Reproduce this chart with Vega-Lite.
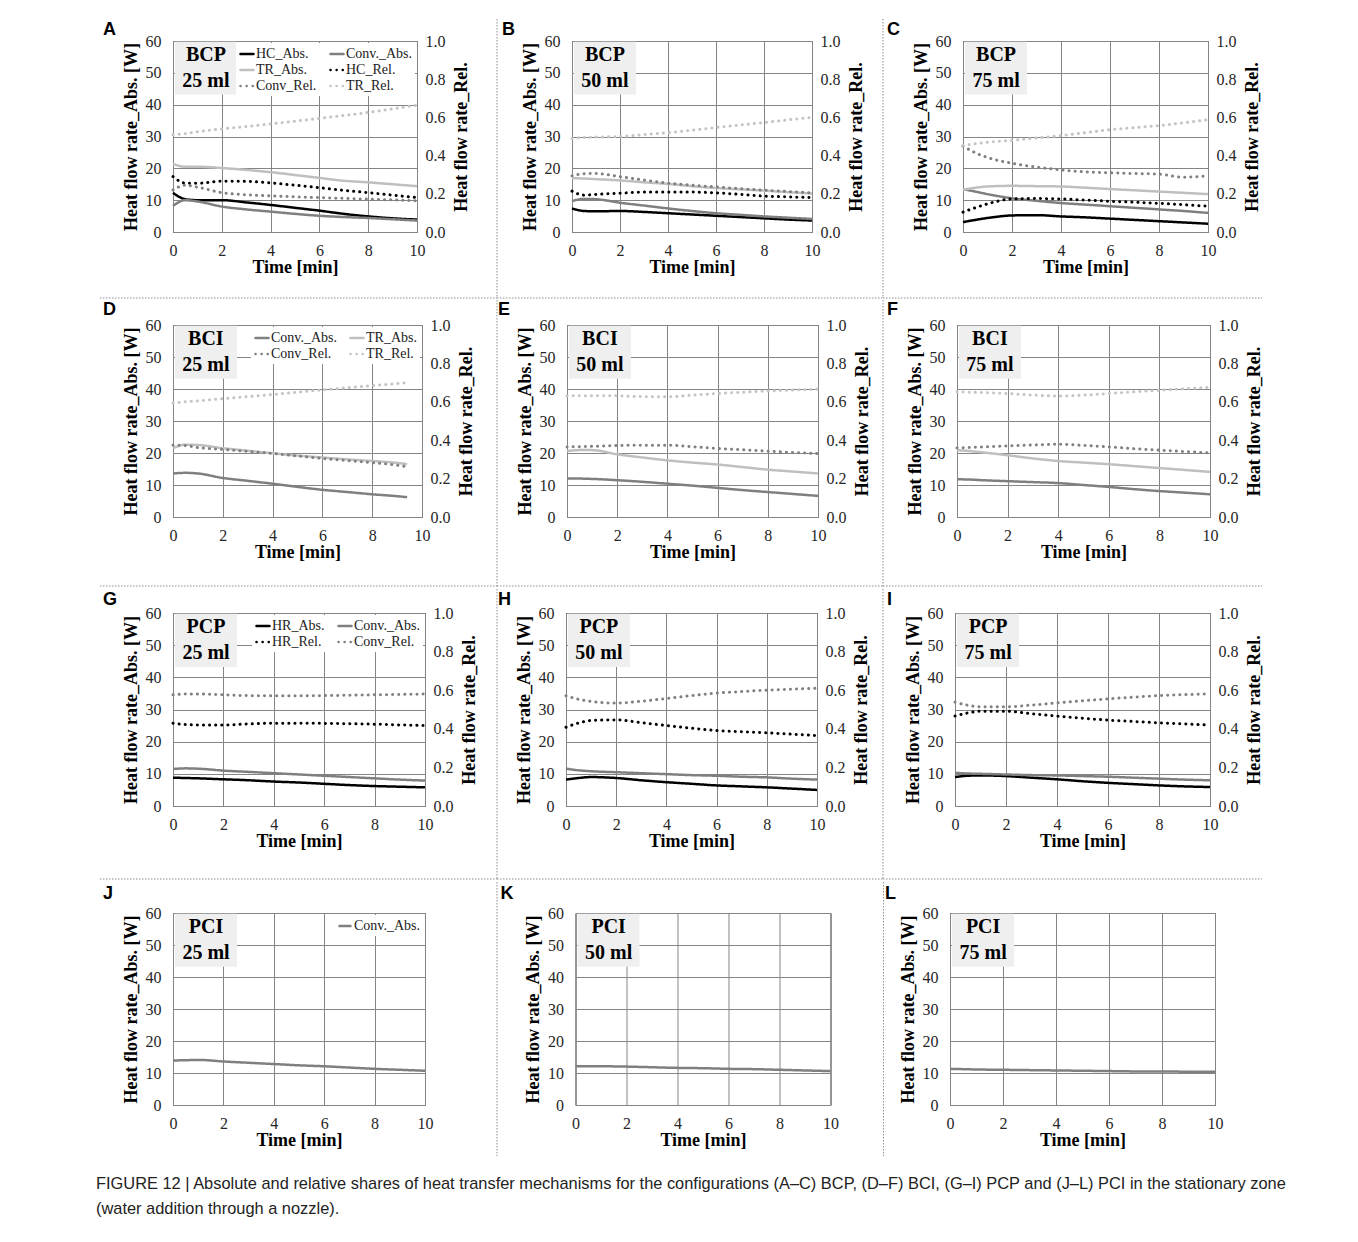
{
"$schema":"https://vega.github.io/schema/vega-lite/v6.json",
"padding":{"left":95,"top":18,"right":5,"bottom":5},
"background":"white",
"datasets":{
"lab":[{"p":"A","txt":"BCP\n25 ml"},{"p":"B","txt":"BCP\n50 ml"},{"p":"C","txt":"BCP\n75 ml"},{"p":"D","txt":"BCI\n25 ml"},{"p":"E","txt":"BCI\n50 ml"},{"p":"F","txt":"BCI\n75 ml"},{"p":"G","txt":"PCP\n25 ml"},{"p":"H","txt":"PCP\n50 ml"},{"p":"I","txt":"PCP\n75 ml"},{"p":"J","txt":"PCI\n25 ml"},{"p":"K","txt":"PCI\n50 ml"},{"p":"L","txt":"PCI\n75 ml"}],
"d":[
{"p":"A","s":"HC_Abs.","t":[0,0.5,1,2,3,4,5,6,7,8,9,10],"v":[12.3,10.3,10,10,9.3,8.5,7.6,6.7,5.7,4.9,4.3,3.9]},
{"p":"A","s":"Conv._Abs.","t":[0,0.5,1,2,3,4,5,6,7,8,9,10],"v":[8.2,10,9.6,8,7.1,6.4,5.7,5.1,4.7,4.4,4,3.6]},
{"p":"A","s":"TR_Abs.","t":[0,0.5,1,2,3,4,5,6,7,8,9,10],"v":[21.4,20.5,20.5,20.1,19.5,18.8,17.9,17,16.1,15.6,15,14.4]},
{"p":"A","s":"HC_Rel.","t":[0,0.5,1,2,3,4,5,6,7,8,9,10],"v":[0.29,0.256,0.255,0.266,0.265,0.257,0.245,0.232,0.218,0.206,0.193,0.18]},
{"p":"A","s":"Conv_Rel.","t":[0,0.5,1,2,3,4,5,6,7,8,9,10],"v":[0.22,0.245,0.235,0.206,0.195,0.189,0.184,0.18,0.176,0.172,0.168,0.163]},
{"p":"A","s":"TR_Rel.","t":[0,0.5,1,2,3,4,5,6,7,8,9,10],"v":[0.51,0.515,0.525,0.54,0.552,0.566,0.58,0.595,0.61,0.626,0.645,0.664]},
{"p":"B","s":"HC_Abs.","t":[0,0.5,1,2,3,4,5,6,7,8,9,10],"v":[7.4,6.6,6.5,6.6,6.3,5.9,5.5,5.1,4.7,4.3,3.9,3.6]},
{"p":"B","s":"Conv._Abs.","t":[0,0.5,1,2,3,4,5,6,7,8,9,10],"v":[9.7,10.4,10.3,9.2,8.3,7.4,6.6,5.9,5.4,4.9,4.5,4.1]},
{"p":"B","s":"TR_Abs.","t":[0,0.5,1,2,3,4,5,6,7,8,9,10],"v":[16.9,16.8,16.6,16.2,15.6,15.1,14.4,13.8,13.4,13,12.5,12.1]},
{"p":"B","s":"HC_Rel.","t":[0,0.5,1,2,3,4,5,6,7,8,9,10],"v":[0.214,0.193,0.197,0.203,0.209,0.209,0.209,0.205,0.197,0.188,0.184,0.18]},
{"p":"B","s":"Conv_Rel.","t":[0,0.5,1,2,3,4,5,6,7,8,9,10],"v":[0.294,0.305,0.306,0.29,0.272,0.256,0.245,0.236,0.227,0.219,0.212,0.205]},
{"p":"B","s":"TR_Rel.","t":[0,0.5,1,2,3,4,5,6,7,8,9,10],"v":[0.49,0.495,0.497,0.5,0.51,0.52,0.533,0.547,0.56,0.573,0.587,0.6]},
{"p":"C","s":"HC_Abs.","t":[0,0.5,1,2,3,4,5,6,7,8,9,10],"v":[3.1,3.8,4.4,5.2,5.3,4.9,4.6,4.2,3.8,3.4,3,2.6]},
{"p":"C","s":"Conv._Abs.","t":[0,0.5,1,2,3,4,5,6,7,8,9,10],"v":[13.5,12.7,11.9,10.6,9.8,9.1,8.6,8.1,7.6,7.1,6.6,6.0]},
{"p":"C","s":"TR_Abs.","t":[0,0.5,1,2,3,4,5,6,7,8,9,10],"v":[13.3,13.9,14.3,14.5,14.4,14.3,13.9,13.5,13.1,12.7,12.3,11.9]},
{"p":"C","s":"HC_Rel.","t":[0,0.5,1,2,3,4,5,6,7,8,9,10],"v":[0.104,0.127,0.147,0.173,0.175,0.173,0.167,0.161,0.156,0.15,0.143,0.135]},
{"p":"C","s":"Conv_Rel.","t":[0,0.5,1,2,3,4,5,6,7,8,9,10],"v":[0.45,0.415,0.39,0.36,0.34,0.325,0.315,0.31,0.306,0.303,0.287,0.294]},
{"p":"C","s":"TR_Rel.","t":[0,0.5,1,2,3,4,5,6,7,8,9,10],"v":[0.453,0.462,0.47,0.48,0.492,0.505,0.52,0.536,0.546,0.557,0.572,0.588]},
{"p":"D","s":"Conv._Abs.","t":[0,0.5,1,2,3,4,5,6,7,8,9,9.4],"v":[13.6,13.8,13.6,12.2,11.3,10.4,9.4,8.5,7.8,7.1,6.5,6.2]},
{"p":"D","s":"TR_Abs.","t":[0,0.5,1,2,3,4,5,6,7,8,9,9.4],"v":[21.5,22.6,22.5,21.5,20.7,19.9,19.2,18.6,18,17.5,16.9,16.5]},
{"p":"D","s":"Conv_Rel.","t":[0,0.5,1,2,3,4,5,6,7,8,9,9.4],"v":[0.374,0.372,0.362,0.352,0.342,0.331,0.318,0.305,0.294,0.283,0.27,0.262]},
{"p":"D","s":"TR_Rel.","t":[0,0.5,1,2,3,4,5,6,7,8,9,9.4],"v":[0.593,0.6,0.605,0.616,0.627,0.638,0.65,0.662,0.673,0.684,0.695,0.7]},
{"p":"E","s":"Conv._Abs.","t":[0,0.5,1,2,3,4,5,6,7,8,9,10],"v":[12,12,11.9,11.5,11,10.4,9.8,9.1,8.4,7.8,7.2,6.6]},
{"p":"E","s":"TR_Abs.","t":[0,0.5,1,2,3,4,5,6,7,8,9,10],"v":[20.6,20.9,20.9,19.6,18.6,17.7,17,16.4,15.6,14.8,14.2,13.6]},
{"p":"E","s":"Conv_Rel.","t":[0,0.5,1,2,3,4,5,6,7,8,9,10],"v":[0.365,0.366,0.368,0.372,0.374,0.374,0.366,0.357,0.35,0.343,0.336,0.33]},
{"p":"E","s":"TR_Rel.","t":[0,0.5,1,2,3,4,5,6,7,8,9,10],"v":[0.631,0.632,0.632,0.631,0.627,0.626,0.635,0.643,0.65,0.656,0.661,0.666]},
{"p":"F","s":"Conv._Abs.","t":[0,0.5,1,2,3,4,5,6,7,8,9,10],"v":[11.8,11.7,11.5,11.2,10.9,10.6,10,9.4,8.7,8.1,7.6,7.1]},
{"p":"F","s":"TR_Abs.","t":[0,0.5,1,2,3,4,5,6,7,8,9,10],"v":[20.9,20.6,20.2,19.3,18.3,17.5,17,16.5,15.9,15.3,14.7,14.1]},
{"p":"F","s":"Conv_Rel.","t":[0,0.5,1,2,3,4,5,6,7,8,9,10],"v":[0.36,0.362,0.365,0.37,0.375,0.379,0.373,0.365,0.356,0.348,0.341,0.334]},
{"p":"F","s":"TR_Rel.","t":[0,0.5,1,2,3,4,5,6,7,8,9,10],"v":[0.652,0.65,0.648,0.643,0.635,0.63,0.635,0.643,0.652,0.66,0.668,0.675]},
{"p":"G","s":"HR_Abs.","t":[0,0.5,1,2,3,4,5,6,7,8,9,10],"v":[8.8,8.7,8.6,8.3,8,7.6,7.3,6.9,6.5,6.2,6,5.8]},
{"p":"G","s":"Conv._Abs.","t":[0,0.5,1,2,3,4,5,6,7,8,9,10],"v":[11.5,11.7,11.6,11,10.6,10.2,9.8,9.4,9,8.6,8.2,7.9]},
{"p":"G","s":"HR_Rel.","t":[0,0.5,1,2,3,4,5,6,7,8,9,10],"v":[0.429,0.422,0.42,0.42,0.425,0.429,0.429,0.428,0.426,0.424,0.42,0.417]},
{"p":"G","s":"Conv_Rel.","t":[0,0.5,1,2,3,4,5,6,7,8,9,10],"v":[0.576,0.58,0.58,0.576,0.572,0.571,0.571,0.572,0.574,0.576,0.578,0.58]},
{"p":"H","s":"HR_Abs.","t":[0,0.5,1,2,3,4,5,6,7,8,9,10],"v":[8.2,8.7,9,8.7,8,7.4,6.9,6.4,6.1,5.8,5.4,5]},
{"p":"H","s":"Conv._Abs.","t":[0,0.5,1,2,3,4,5,6,7,8,9,10],"v":[11.6,11.1,10.8,10.5,10.2,9.9,9.6,9.4,9.1,8.9,8.5,8.2]},
{"p":"H","s":"HR_Rel.","t":[0,0.5,1,2,3,4,5,6,7,8,9,10],"v":[0.408,0.43,0.443,0.446,0.432,0.417,0.403,0.391,0.385,0.379,0.372,0.365]},
{"p":"H","s":"Conv_Rel.","t":[0,0.5,1,2,3,4,5,6,7,8,9,10],"v":[0.571,0.553,0.542,0.533,0.543,0.557,0.572,0.585,0.593,0.6,0.605,0.61]},
{"p":"I","s":"HR_Abs.","t":[0,0.5,1,2,3,4,5,6,7,8,9,10],"v":[9,9.4,9.5,9.3,8.8,8.3,7.7,7.2,6.8,6.4,6.1,5.9]},
{"p":"I","s":"Conv._Abs.","t":[0,0.5,1,2,3,4,5,6,7,8,9,10],"v":[10.3,10.1,10,9.8,9.6,9.5,9.3,9.1,8.8,8.5,8.2,8]},
{"p":"I","s":"HR_Rel.","t":[0,0.5,1,2,3,4,5,6,7,8,9,10],"v":[0.466,0.482,0.491,0.491,0.478,0.466,0.455,0.445,0.438,0.431,0.425,0.419]},
{"p":"I","s":"Conv_Rel.","t":[0,0.5,1,2,3,4,5,6,7,8,9,10],"v":[0.538,0.522,0.514,0.514,0.523,0.534,0.545,0.555,0.564,0.572,0.577,0.581]},
{"p":"J","s":"Conv._Abs.","t":[0,0.5,1,2,3,4,5,6,7,8,9,10],"v":[13.9,14,14.1,13.6,13.2,12.8,12.4,12.1,11.7,11.3,11,10.7]},
{"p":"K","s":"Conv._Abs.","t":[0,0.5,1,2,3,4,5,6,7,8,9,10],"v":[12.1,12.1,12.1,12,11.8,11.6,11.5,11.3,11.2,11,10.8,10.6]},
{"p":"L","s":"Conv._Abs.","t":[0,0.5,1,2,3,4,5,6,7,8,9,10],"v":[11.3,11.2,11.1,11,10.9,10.8,10.7,10.6,10.5,10.5,10.4,10.4]}
]},
"title":{"text":["FIGURE 12 | Absolute and relative shares of heat transfer mechanisms for the configurations (A–C) BCP, (D–F) BCI, (G–I) PCP and (J–L) PCI in the stationary zone","(water addition through a nozzle)."],"orient":"bottom","anchor":"start","frame":"bounds","dx":-3,"offset":19,"font":"Liberation Sans","fontSize":16.4,"fontWeight":"normal","lineHeight":25,"color":"#222222"},
"spacing":0,
"resolve":{"scale":{"color":"independent","strokeDash":"independent"}},
"vconcat":[
{"hconcat":[
 {"width":244,"height":191,"layer":[
  {"layer":[
   {"data":{"name":"lab"},"transform":[{"filter":"datum.p=='A'"}],"mark":{"type":"rule","color":"#8c8c8c","strokeWidth":1,"strokeDash":[1.5,1.5],"clip":false},"encoding":{"x":{"datum":13.279,"type":"quantitative","scale":{"domain":[0,10]}},"y":{"datum":66.91,"type":"quantitative","scale":{"domain":[0,60]}},"y2":{"datum":-20.73}}},
   {"data":{"name":"lab"},"transform":[{"filter":"datum.p=='A'"}],"mark":{"type":"rule","color":"#8c8c8c","strokeWidth":1,"strokeDash":[1.5,1.5],"clip":false},"encoding":{"x":{"datum":-2.992,"type":"quantitative","scale":{"domain":[0,10]}},"x2":{"datum":13.279},"y":{"datum":-20.73,"type":"quantitative","scale":{"domain":[0,60]}}}},
   {"data":{"name":"lab"},"transform":[{"filter":"datum.p=='A'"}],"mark":{"type":"text","font":"Liberation Sans","fontSize":18,"fontWeight":"bold","align":"left","baseline":"alphabetic","color":"#000","clip":false},"encoding":{"x":{"datum":-2.869,"type":"quantitative"},"y":{"datum":61.9,"type":"quantitative"},"text":{"field":"p"}}},
   {"data":{"name":"lab"},"transform":[{"filter":"datum.p=='A'"}],"mark":{"type":"rect","fill":"#efefef"},"encoding":{"x":{"datum":0.08,"type":"quantitative","scale":{"domain":[0,10]}},"x2":{"datum":2.62},"y":{"datum":59.8,"type":"quantitative","scale":{"domain":[0,60]}},"y2":{"datum":43.2}}},
   {"data":{"name":"lab"},"transform":[{"filter":"datum.p=='A'"}],"mark":{"type":"text","font":"Liberation Serif","fontSize":20,"fontWeight":"bold","lineBreak":"\n","lineHeight":26,"color":"#000"},"encoding":{"x":{"datum":1.35,"type":"quantitative"},"y":{"datum":55.6,"type":"quantitative"},"text":{"field":"txt"}}},
   {"data":{"name":"d"},"transform":[{"filter":"datum.p=='A'"},{"filter":{"field":"s","oneOf":["HC_Abs.","Conv._Abs.","TR_Abs.","HR_Abs."]}},{"flatten":["t","v"]}],"mark":{"type":"line","strokeWidth":2.5,"interpolate":"monotone"},"encoding":{"x":{"field":"t","type":"quantitative","title":"Time [min]","scale":{"domain":[0,10]}},"y":{"field":"v","type":"quantitative","title":"Heat flow rate_Abs. [W]","scale":{"domain":[0,60]}},
    "color":{"field":"s","type":"nominal","scale":{"domain":["HC_Abs.","TR_Abs.","Conv_Rel.","Conv._Abs.","HC_Rel.","TR_Rel."],"range":["#000000","#bfbfbf","#808080","#7f7f7f","#000000","#c4c4c4"]},"legend":{"title":null,"encode":{"symbols":{"update":{"strokeCap":{"value":"round"}}}}}},
    "strokeDash":{"field":"s","type":"nominal","scale":{"domain":["HC_Abs.","TR_Abs.","Conv_Rel.","Conv._Abs.","HC_Rel.","TR_Rel."],"range":[[1,0],[1,0],[0.1,6],[1,0],[0.1,6],[0.1,6]]},"legend":{"title":null,"encode":{"symbols":{"update":{"strokeCap":{"value":"round"}}}}}}}}
  ]},
  {"data":{"name":"d"},"transform":[{"filter":"datum.p=='A'"},{"filter":{"field":"s","oneOf":["HC_Rel.","Conv_Rel.","TR_Rel.","HR_Rel."]}},{"flatten":["t","v"]}],"mark":{"type":"line","strokeWidth":3,"strokeCap":"round","interpolate":"monotone"},"encoding":{"x":{"field":"t","type":"quantitative","title":"Time [min]","scale":{"domain":[0,10]}},"y":{"field":"v","type":"quantitative","title":"Heat flow rate_Rel.","scale":{"domain":[0,1]},"axis":{"orient":"right","format":".1f"}},
    "color":{"field":"s","type":"nominal","scale":{"domain":["HC_Abs.","TR_Abs.","Conv_Rel.","Conv._Abs.","HC_Rel.","TR_Rel."],"range":["#000000","#bfbfbf","#808080","#7f7f7f","#000000","#c4c4c4"]},"legend":{"title":null,"encode":{"symbols":{"update":{"strokeCap":{"value":"round"}}}}}},
    "strokeDash":{"field":"s","type":"nominal","scale":{"domain":["HC_Abs.","TR_Abs.","Conv_Rel.","Conv._Abs.","HC_Rel.","TR_Rel."],"range":[[1,0],[1,0],[0.1,6],[1,0],[0.1,6],[0.1,6]]},"legend":{"title":null,"encode":{"symbols":{"update":{"strokeCap":{"value":"round"}}}}}}}}
 ],"resolve":{"scale":{"y":"independent"}}},
 {"hconcat":[
  {"width":240,"height":191,"layer":[
   {"layer":[
    {"data":{"name":"lab"},"transform":[{"filter":"datum.p=='B'"}],"mark":{"type":"rule","color":"#8c8c8c","strokeWidth":1,"strokeDash":[1.5,1.5],"clip":false},"encoding":{"x":{"datum":12.958,"type":"quantitative","scale":{"domain":[0,10]}},"y":{"datum":66.91,"type":"quantitative","scale":{"domain":[0,60]}},"y2":{"datum":-20.73}}},
    {"data":{"name":"lab"},"transform":[{"filter":"datum.p=='B'"}],"mark":{"type":"rule","color":"#8c8c8c","strokeWidth":1,"strokeDash":[1.5,1.5],"clip":false},"encoding":{"x":{"datum":-3.125,"type":"quantitative","scale":{"domain":[0,10]}},"x2":{"datum":12.958},"y":{"datum":-20.73,"type":"quantitative","scale":{"domain":[0,60]}}}},
    {"data":{"name":"lab"},"transform":[{"filter":"datum.p=='B'"}],"mark":{"type":"text","font":"Liberation Sans","fontSize":18,"fontWeight":"bold","align":"left","baseline":"alphabetic","color":"#000","clip":false},"encoding":{"x":{"datum":-2.917,"type":"quantitative"},"y":{"datum":61.9,"type":"quantitative"},"text":{"field":"p"}}},
    {"data":{"name":"lab"},"transform":[{"filter":"datum.p=='B'"}],"mark":{"type":"rect","fill":"#efefef"},"encoding":{"x":{"datum":0.08,"type":"quantitative","scale":{"domain":[0,10]}},"x2":{"datum":2.67},"y":{"datum":59.8,"type":"quantitative","scale":{"domain":[0,60]}},"y2":{"datum":43.2}}},
    {"data":{"name":"lab"},"transform":[{"filter":"datum.p=='B'"}],"mark":{"type":"text","font":"Liberation Serif","fontSize":20,"fontWeight":"bold","lineBreak":"\n","lineHeight":26,"color":"#000"},"encoding":{"x":{"datum":1.37,"type":"quantitative"},"y":{"datum":55.6,"type":"quantitative"},"text":{"field":"txt"}}},
    {"data":{"name":"d"},"transform":[{"filter":"datum.p=='B'"},{"filter":{"field":"s","oneOf":["HC_Abs.","Conv._Abs.","TR_Abs.","HR_Abs."]}},{"flatten":["t","v"]}],"mark":{"type":"line","strokeWidth":2.5,"interpolate":"monotone"},"encoding":{"x":{"field":"t","type":"quantitative","title":"Time [min]","scale":{"domain":[0,10]}},"y":{"field":"v","type":"quantitative","title":"Heat flow rate_Abs. [W]","scale":{"domain":[0,60]}},
     "color":{"field":"s","type":"nominal","scale":{"domain":["HC_Abs.","Conv._Abs.","TR_Abs.","HC_Rel.","Conv_Rel.","TR_Rel."],"range":["#000000","#7f7f7f","#bfbfbf","#000000","#808080","#c4c4c4"]},"legend":null},
     "strokeDash":{"field":"s","type":"nominal","scale":{"domain":["HC_Abs.","Conv._Abs.","TR_Abs.","HC_Rel.","Conv_Rel.","TR_Rel."],"range":[[1,0],[1,0],[1,0],[0.1,6],[0.1,6],[0.1,6]]},"legend":null}}}
   ]},
   {"data":{"name":"d"},"transform":[{"filter":"datum.p=='B'"},{"filter":{"field":"s","oneOf":["HC_Rel.","Conv_Rel.","TR_Rel.","HR_Rel."]}},{"flatten":["t","v"]}],"mark":{"type":"line","strokeWidth":3,"strokeCap":"round","interpolate":"monotone"},"encoding":{"x":{"field":"t","type":"quantitative","title":"Time [min]","scale":{"domain":[0,10]}},"y":{"field":"v","type":"quantitative","title":"Heat flow rate_Rel.","scale":{"domain":[0,1]},"axis":{"orient":"right","format":".1f"}},
     "color":{"field":"s","type":"nominal","scale":{"domain":["HC_Abs.","Conv._Abs.","TR_Abs.","HC_Rel.","Conv_Rel.","TR_Rel."],"range":["#000000","#7f7f7f","#bfbfbf","#000000","#808080","#c4c4c4"]},"legend":null},
     "strokeDash":{"field":"s","type":"nominal","scale":{"domain":["HC_Abs.","Conv._Abs.","TR_Abs.","HC_Rel.","Conv_Rel.","TR_Rel."],"range":[[1,0],[1,0],[1,0],[0.1,6],[0.1,6],[0.1,6]]},"legend":null}}}
  ],"resolve":{"scale":{"y":"independent"}}},
  {"width":245,"height":191,"layer":[
   {"layer":[
    {"data":{"name":"lab"},"transform":[{"filter":"datum.p=='C'"}],"mark":{"type":"rule","color":"#8c8c8c","strokeWidth":1,"strokeDash":[1.5,1.5],"clip":false},"encoding":{"x":{"datum":-3.265,"type":"quantitative","scale":{"domain":[0,10]}},"x2":{"datum":12.204},"y":{"datum":-20.73,"type":"quantitative","scale":{"domain":[0,60]}}}},
    {"data":{"name":"lab"},"transform":[{"filter":"datum.p=='C'"}],"mark":{"type":"text","font":"Liberation Sans","fontSize":18,"fontWeight":"bold","align":"left","baseline":"alphabetic","color":"#000","clip":false},"encoding":{"x":{"datum":-3.102,"type":"quantitative"},"y":{"datum":61.9,"type":"quantitative"},"text":{"field":"p"}}},
    {"data":{"name":"lab"},"transform":[{"filter":"datum.p=='C'"}],"mark":{"type":"rect","fill":"#efefef"},"encoding":{"x":{"datum":0.08,"type":"quantitative","scale":{"domain":[0,10]}},"x2":{"datum":2.61},"y":{"datum":59.8,"type":"quantitative","scale":{"domain":[0,60]}},"y2":{"datum":43.2}}},
    {"data":{"name":"lab"},"transform":[{"filter":"datum.p=='C'"}],"mark":{"type":"text","font":"Liberation Serif","fontSize":20,"fontWeight":"bold","lineBreak":"\n","lineHeight":26,"color":"#000"},"encoding":{"x":{"datum":1.35,"type":"quantitative"},"y":{"datum":55.6,"type":"quantitative"},"text":{"field":"txt"}}},
    {"data":{"name":"d"},"transform":[{"filter":"datum.p=='C'"},{"filter":{"field":"s","oneOf":["HC_Abs.","Conv._Abs.","TR_Abs.","HR_Abs."]}},{"flatten":["t","v"]}],"mark":{"type":"line","strokeWidth":2.5,"interpolate":"monotone"},"encoding":{"x":{"field":"t","type":"quantitative","title":"Time [min]","scale":{"domain":[0,10]}},"y":{"field":"v","type":"quantitative","title":"Heat flow rate_Abs. [W]","scale":{"domain":[0,60]}},
     "color":{"field":"s","type":"nominal","scale":{"domain":["HC_Abs.","Conv._Abs.","TR_Abs.","HC_Rel.","Conv_Rel.","TR_Rel."],"range":["#000000","#7f7f7f","#bfbfbf","#000000","#808080","#c4c4c4"]},"legend":null},
     "strokeDash":{"field":"s","type":"nominal","scale":{"domain":["HC_Abs.","Conv._Abs.","TR_Abs.","HC_Rel.","Conv_Rel.","TR_Rel."],"range":[[1,0],[1,0],[1,0],[0.1,6],[0.1,6],[0.1,6]]},"legend":null}}}
   ]},
   {"data":{"name":"d"},"transform":[{"filter":"datum.p=='C'"},{"filter":{"field":"s","oneOf":["HC_Rel.","Conv_Rel.","TR_Rel.","HR_Rel."]}},{"flatten":["t","v"]}],"mark":{"type":"line","strokeWidth":3,"strokeCap":"round","interpolate":"monotone"},"encoding":{"x":{"field":"t","type":"quantitative","title":"Time [min]","scale":{"domain":[0,10]}},"y":{"field":"v","type":"quantitative","title":"Heat flow rate_Rel.","scale":{"domain":[0,1]},"axis":{"orient":"right","format":".1f"}},
     "color":{"field":"s","type":"nominal","scale":{"domain":["HC_Abs.","Conv._Abs.","TR_Abs.","HC_Rel.","Conv_Rel.","TR_Rel."],"range":["#000000","#7f7f7f","#bfbfbf","#000000","#808080","#c4c4c4"]},"legend":null},
     "strokeDash":{"field":"s","type":"nominal","scale":{"domain":["HC_Abs.","Conv._Abs.","TR_Abs.","HC_Rel.","Conv_Rel.","TR_Rel."],"range":[[1,0],[1,0],[1,0],[0.1,6],[0.1,6],[0.1,6]]},"legend":null}}}
  ],"resolve":{"scale":{"y":"independent"}}}
 ],"spacing":-2,"resolve":{"scale":{"color":"independent","strokeDash":"independent"}}}
],"spacing":-3,"resolve":{"scale":{"color":"independent","strokeDash":"independent"}}},
{"vconcat":[
 {"hconcat":[
  {"width":249,"height":192,"layer":[
   {"layer":[
    {"data":{"name":"lab"},"transform":[{"filter":"datum.p=='D'"}],"mark":{"type":"rule","color":"#8c8c8c","strokeWidth":1,"strokeDash":[1.5,1.5],"clip":false},"encoding":{"x":{"datum":13.012,"type":"quantitative","scale":{"domain":[0,10]}},"y":{"datum":67.81,"type":"quantitative","scale":{"domain":[0,60]}},"y2":{"datum":-21.56}}},
    {"data":{"name":"lab"},"transform":[{"filter":"datum.p=='D'"}],"mark":{"type":"rule","color":"#8c8c8c","strokeWidth":1,"strokeDash":[1.5,1.5],"clip":false},"encoding":{"x":{"datum":-2.932,"type":"quantitative","scale":{"domain":[0,10]}},"x2":{"datum":13.012},"y":{"datum":-21.56,"type":"quantitative","scale":{"domain":[0,60]}}}},
    {"data":{"name":"lab"},"transform":[{"filter":"datum.p=='D'"}],"mark":{"type":"text","font":"Liberation Sans","fontSize":18,"fontWeight":"bold","align":"left","baseline":"alphabetic","color":"#000","clip":false},"encoding":{"x":{"datum":-2.811,"type":"quantitative"},"y":{"datum":63.2,"type":"quantitative"},"text":{"field":"p"}}},
    {"data":{"name":"lab"},"transform":[{"filter":"datum.p=='D'"}],"mark":{"type":"rect","fill":"#efefef"},"encoding":{"x":{"datum":0.08,"type":"quantitative","scale":{"domain":[0,10]}},"x2":{"datum":2.57},"y":{"datum":59.8,"type":"quantitative","scale":{"domain":[0,60]}},"y2":{"datum":43.2}}},
    {"data":{"name":"lab"},"transform":[{"filter":"datum.p=='D'"}],"mark":{"type":"text","font":"Liberation Serif","fontSize":20,"fontWeight":"bold","lineBreak":"\n","lineHeight":26,"color":"#000"},"encoding":{"x":{"datum":1.32,"type":"quantitative"},"y":{"datum":55.6,"type":"quantitative"},"text":{"field":"txt"}}},
    {"data":{"name":"d"},"transform":[{"filter":"datum.p=='D'"},{"filter":{"field":"s","oneOf":["HC_Abs.","Conv._Abs.","TR_Abs.","HR_Abs."]}},{"flatten":["t","v"]}],"mark":{"type":"line","strokeWidth":2.5,"interpolate":"monotone"},"encoding":{"x":{"field":"t","type":"quantitative","title":"Time [min]","scale":{"domain":[0,10]}},"y":{"field":"v","type":"quantitative","title":"Heat flow rate_Abs. [W]","scale":{"domain":[0,60]}},
     "color":{"field":"s","type":"nominal","scale":{"domain":["Conv._Abs.","Conv_Rel.","TR_Abs.","TR_Rel."],"range":["#7f7f7f","#808080","#bfbfbf","#c4c4c4"]},"legend":{"title":null,"encode":{"symbols":{"update":{"strokeCap":{"value":"round"}}}}}},
     "strokeDash":{"field":"s","type":"nominal","scale":{"domain":["Conv._Abs.","Conv_Rel.","TR_Abs.","TR_Rel."],"range":[[1,0],[0.1,6],[1,0],[0.1,6]]},"legend":{"title":null,"encode":{"symbols":{"update":{"strokeCap":{"value":"round"}}}}}}}}
   ]},
   {"data":{"name":"d"},"transform":[{"filter":"datum.p=='D'"},{"filter":{"field":"s","oneOf":["HC_Rel.","Conv_Rel.","TR_Rel.","HR_Rel."]}},{"flatten":["t","v"]}],"mark":{"type":"line","strokeWidth":3,"strokeCap":"round","interpolate":"monotone"},"encoding":{"x":{"field":"t","type":"quantitative","title":"Time [min]","scale":{"domain":[0,10]}},"y":{"field":"v","type":"quantitative","title":"Heat flow rate_Rel.","scale":{"domain":[0,1]},"axis":{"orient":"right","format":".1f"}},
     "color":{"field":"s","type":"nominal","scale":{"domain":["Conv._Abs.","Conv_Rel.","TR_Abs.","TR_Rel."],"range":["#7f7f7f","#808080","#bfbfbf","#c4c4c4"]},"legend":{"title":null,"encode":{"symbols":{"update":{"strokeCap":{"value":"round"}}}}}},
     "strokeDash":{"field":"s","type":"nominal","scale":{"domain":["Conv._Abs.","Conv_Rel.","TR_Abs.","TR_Rel."],"range":[[1,0],[0.1,6],[1,0],[0.1,6]]},"legend":{"title":null,"encode":{"symbols":{"update":{"strokeCap":{"value":"round"}}}}}}}}
  ],"resolve":{"scale":{"y":"independent"}}},
  {"hconcat":[
   {"width":251,"height":192,"layer":[
    {"layer":[
     {"data":{"name":"lab"},"transform":[{"filter":"datum.p=='E'"}],"mark":{"type":"rule","color":"#8c8c8c","strokeWidth":1,"strokeDash":[1.5,1.5],"clip":false},"encoding":{"x":{"datum":12.59,"type":"quantitative","scale":{"domain":[0,10]}},"y":{"datum":67.81,"type":"quantitative","scale":{"domain":[0,60]}},"y2":{"datum":-21.56}}},
     {"data":{"name":"lab"},"transform":[{"filter":"datum.p=='E'"}],"mark":{"type":"rule","color":"#8c8c8c","strokeWidth":1,"strokeDash":[1.5,1.5],"clip":false},"encoding":{"x":{"datum":-2.789,"type":"quantitative","scale":{"domain":[0,10]}},"x2":{"datum":12.59},"y":{"datum":-21.56,"type":"quantitative","scale":{"domain":[0,60]}}}},
     {"data":{"name":"lab"},"transform":[{"filter":"datum.p=='E'"}],"mark":{"type":"text","font":"Liberation Sans","fontSize":18,"fontWeight":"bold","align":"left","baseline":"alphabetic","color":"#000","clip":false},"encoding":{"x":{"datum":-2.749,"type":"quantitative"},"y":{"datum":63.2,"type":"quantitative"},"text":{"field":"p"}}},
     {"data":{"name":"lab"},"transform":[{"filter":"datum.p=='E'"}],"mark":{"type":"rect","fill":"#efefef"},"encoding":{"x":{"datum":0.08,"type":"quantitative","scale":{"domain":[0,10]}},"x2":{"datum":2.55},"y":{"datum":59.8,"type":"quantitative","scale":{"domain":[0,60]}},"y2":{"datum":43.2}}},
     {"data":{"name":"lab"},"transform":[{"filter":"datum.p=='E'"}],"mark":{"type":"text","font":"Liberation Serif","fontSize":20,"fontWeight":"bold","lineBreak":"\n","lineHeight":26,"color":"#000"},"encoding":{"x":{"datum":1.31,"type":"quantitative"},"y":{"datum":55.6,"type":"quantitative"},"text":{"field":"txt"}}},
     {"data":{"name":"d"},"transform":[{"filter":"datum.p=='E'"},{"filter":{"field":"s","oneOf":["HC_Abs.","Conv._Abs.","TR_Abs.","HR_Abs."]}},{"flatten":["t","v"]}],"mark":{"type":"line","strokeWidth":2.5,"interpolate":"monotone"},"encoding":{"x":{"field":"t","type":"quantitative","title":"Time [min]","scale":{"domain":[0,10]}},"y":{"field":"v","type":"quantitative","title":"Heat flow rate_Abs. [W]","scale":{"domain":[0,60]}},
      "color":{"field":"s","type":"nominal","scale":{"domain":["Conv._Abs.","TR_Abs.","Conv_Rel.","TR_Rel."],"range":["#7f7f7f","#bfbfbf","#808080","#c4c4c4"]},"legend":null},
      "strokeDash":{"field":"s","type":"nominal","scale":{"domain":["Conv._Abs.","TR_Abs.","Conv_Rel.","TR_Rel."],"range":[[1,0],[1,0],[0.1,6],[0.1,6]]},"legend":null}}}
    ]},
    {"data":{"name":"d"},"transform":[{"filter":"datum.p=='E'"},{"filter":{"field":"s","oneOf":["HC_Rel.","Conv_Rel.","TR_Rel.","HR_Rel."]}},{"flatten":["t","v"]}],"mark":{"type":"line","strokeWidth":3,"strokeCap":"round","interpolate":"monotone"},"encoding":{"x":{"field":"t","type":"quantitative","title":"Time [min]","scale":{"domain":[0,10]}},"y":{"field":"v","type":"quantitative","title":"Heat flow rate_Rel.","scale":{"domain":[0,1]},"axis":{"orient":"right","format":".1f"}},
      "color":{"field":"s","type":"nominal","scale":{"domain":["Conv._Abs.","TR_Abs.","Conv_Rel.","TR_Rel."],"range":["#7f7f7f","#bfbfbf","#808080","#c4c4c4"]},"legend":null},
      "strokeDash":{"field":"s","type":"nominal","scale":{"domain":["Conv._Abs.","TR_Abs.","Conv_Rel.","TR_Rel."],"range":[[1,0],[1,0],[0.1,6],[0.1,6]]},"legend":null}}}
   ],"resolve":{"scale":{"y":"independent"}}},
   {"width":253,"height":192,"layer":[
    {"layer":[
     {"data":{"name":"lab"},"transform":[{"filter":"datum.p=='F'"}],"mark":{"type":"rule","color":"#8c8c8c","strokeWidth":1,"strokeDash":[1.5,1.5],"clip":false},"encoding":{"x":{"datum":-2.925,"type":"quantitative","scale":{"domain":[0,10]}},"x2":{"datum":12.055},"y":{"datum":-21.56,"type":"quantitative","scale":{"domain":[0,60]}}}},
     {"data":{"name":"lab"},"transform":[{"filter":"datum.p=='F'"}],"mark":{"type":"text","font":"Liberation Sans","fontSize":18,"fontWeight":"bold","align":"left","baseline":"alphabetic","color":"#000","clip":false},"encoding":{"x":{"datum":-2.767,"type":"quantitative"},"y":{"datum":63.2,"type":"quantitative"},"text":{"field":"p"}}},
     {"data":{"name":"lab"},"transform":[{"filter":"datum.p=='F'"}],"mark":{"type":"rect","fill":"#efefef"},"encoding":{"x":{"datum":0.08,"type":"quantitative","scale":{"domain":[0,10]}},"x2":{"datum":2.53},"y":{"datum":59.8,"type":"quantitative","scale":{"domain":[0,60]}},"y2":{"datum":43.2}}},
     {"data":{"name":"lab"},"transform":[{"filter":"datum.p=='F'"}],"mark":{"type":"text","font":"Liberation Serif","fontSize":20,"fontWeight":"bold","lineBreak":"\n","lineHeight":26,"color":"#000"},"encoding":{"x":{"datum":1.3,"type":"quantitative"},"y":{"datum":55.6,"type":"quantitative"},"text":{"field":"txt"}}},
     {"data":{"name":"d"},"transform":[{"filter":"datum.p=='F'"},{"filter":{"field":"s","oneOf":["HC_Abs.","Conv._Abs.","TR_Abs.","HR_Abs."]}},{"flatten":["t","v"]}],"mark":{"type":"line","strokeWidth":2.5,"interpolate":"monotone"},"encoding":{"x":{"field":"t","type":"quantitative","title":"Time [min]","scale":{"domain":[0,10]}},"y":{"field":"v","type":"quantitative","title":"Heat flow rate_Abs. [W]","scale":{"domain":[0,60]}},
      "color":{"field":"s","type":"nominal","scale":{"domain":["Conv._Abs.","TR_Abs.","Conv_Rel.","TR_Rel."],"range":["#7f7f7f","#bfbfbf","#808080","#c4c4c4"]},"legend":null},
      "strokeDash":{"field":"s","type":"nominal","scale":{"domain":["Conv._Abs.","TR_Abs.","Conv_Rel.","TR_Rel."],"range":[[1,0],[1,0],[0.1,6],[0.1,6]]},"legend":null}}}
    ]},
    {"data":{"name":"d"},"transform":[{"filter":"datum.p=='F'"},{"filter":{"field":"s","oneOf":["HC_Rel.","Conv_Rel.","TR_Rel.","HR_Rel."]}},{"flatten":["t","v"]}],"mark":{"type":"line","strokeWidth":3,"strokeCap":"round","interpolate":"monotone"},"encoding":{"x":{"field":"t","type":"quantitative","title":"Time [min]","scale":{"domain":[0,10]}},"y":{"field":"v","type":"quantitative","title":"Heat flow rate_Rel.","scale":{"domain":[0,1]},"axis":{"orient":"right","format":".1f"}},
      "color":{"field":"s","type":"nominal","scale":{"domain":["Conv._Abs.","TR_Abs.","Conv_Rel.","TR_Rel."],"range":["#7f7f7f","#bfbfbf","#808080","#c4c4c4"]},"legend":null},
      "strokeDash":{"field":"s","type":"nominal","scale":{"domain":["Conv._Abs.","TR_Abs.","Conv_Rel.","TR_Rel."],"range":[[1,0],[1,0],[0.1,6],[0.1,6]]},"legend":null}}}
   ],"resolve":{"scale":{"y":"independent"}}}
  ],"spacing":-4,"resolve":{"scale":{"color":"independent","strokeDash":"independent"}}}
 ],"spacing":-3,"resolve":{"scale":{"color":"independent","strokeDash":"independent"}}},
 {"vconcat":[
  {"hconcat":[
   {"width":252,"height":193,"layer":[
    {"layer":[
     {"data":{"name":"lab"},"transform":[{"filter":"datum.p=='G'"}],"mark":{"type":"rule","color":"#8c8c8c","strokeWidth":1,"strokeDash":[1.5,1.5],"clip":false},"encoding":{"x":{"datum":12.857,"type":"quantitative","scale":{"domain":[0,10]}},"y":{"datum":67.47,"type":"quantitative","scale":{"domain":[0,60]}},"y2":{"datum":-22.69}}},
     {"data":{"name":"lab"},"transform":[{"filter":"datum.p=='G'"}],"mark":{"type":"rule","color":"#8c8c8c","strokeWidth":1,"strokeDash":[1.5,1.5],"clip":false},"encoding":{"x":{"datum":-2.897,"type":"quantitative","scale":{"domain":[0,10]}},"x2":{"datum":12.857},"y":{"datum":-22.69,"type":"quantitative","scale":{"domain":[0,60]}}}},
     {"data":{"name":"lab"},"transform":[{"filter":"datum.p=='G'"}],"mark":{"type":"text","font":"Liberation Sans","fontSize":18,"fontWeight":"bold","align":"left","baseline":"alphabetic","color":"#000","clip":false},"encoding":{"x":{"datum":-2.778,"type":"quantitative"},"y":{"datum":62.5,"type":"quantitative"},"text":{"field":"p"}}},
     {"data":{"name":"lab"},"transform":[{"filter":"datum.p=='G'"}],"mark":{"type":"rect","fill":"#efefef"},"encoding":{"x":{"datum":0.08,"type":"quantitative","scale":{"domain":[0,10]}},"x2":{"datum":2.54},"y":{"datum":59.8,"type":"quantitative","scale":{"domain":[0,60]}},"y2":{"datum":43.2}}},
     {"data":{"name":"lab"},"transform":[{"filter":"datum.p=='G'"}],"mark":{"type":"text","font":"Liberation Serif","fontSize":20,"fontWeight":"bold","lineBreak":"\n","lineHeight":26,"color":"#000"},"encoding":{"x":{"datum":1.31,"type":"quantitative"},"y":{"datum":55.6,"type":"quantitative"},"text":{"field":"txt"}}},
     {"data":{"name":"d"},"transform":[{"filter":"datum.p=='G'"},{"filter":{"field":"s","oneOf":["HC_Abs.","Conv._Abs.","TR_Abs.","HR_Abs."]}},{"flatten":["t","v"]}],"mark":{"type":"line","strokeWidth":2.5,"interpolate":"monotone"},"encoding":{"x":{"field":"t","type":"quantitative","title":"Time [min]","scale":{"domain":[0,10]}},"y":{"field":"v","type":"quantitative","title":"Heat flow rate_Abs. [W]","scale":{"domain":[0,60]}},
      "color":{"field":"s","type":"nominal","scale":{"domain":["HR_Abs.","HR_Rel.","Conv._Abs.","Conv_Rel."],"range":["#000000","#000000","#7f7f7f","#808080"]},"legend":{"title":null,"encode":{"symbols":{"update":{"strokeCap":{"value":"round"}}}}}},
      "strokeDash":{"field":"s","type":"nominal","scale":{"domain":["HR_Abs.","HR_Rel.","Conv._Abs.","Conv_Rel."],"range":[[1,0],[0.1,6],[1,0],[0.1,6]]},"legend":{"title":null,"encode":{"symbols":{"update":{"strokeCap":{"value":"round"}}}}}}}}
    ]},
    {"data":{"name":"d"},"transform":[{"filter":"datum.p=='G'"},{"filter":{"field":"s","oneOf":["HC_Rel.","Conv_Rel.","TR_Rel.","HR_Rel."]}},{"flatten":["t","v"]}],"mark":{"type":"line","strokeWidth":3,"strokeCap":"round","interpolate":"monotone"},"encoding":{"x":{"field":"t","type":"quantitative","title":"Time [min]","scale":{"domain":[0,10]}},"y":{"field":"v","type":"quantitative","title":"Heat flow rate_Rel.","scale":{"domain":[0,1]},"axis":{"orient":"right","format":".1f"}},
      "color":{"field":"s","type":"nominal","scale":{"domain":["HR_Abs.","HR_Rel.","Conv._Abs.","Conv_Rel."],"range":["#000000","#000000","#7f7f7f","#808080"]},"legend":{"title":null,"encode":{"symbols":{"update":{"strokeCap":{"value":"round"}}}}}},
      "strokeDash":{"field":"s","type":"nominal","scale":{"domain":["HR_Abs.","HR_Rel.","Conv._Abs.","Conv_Rel."],"range":[[1,0],[0.1,6],[1,0],[0.1,6]]},"legend":{"title":null,"encode":{"symbols":{"update":{"strokeCap":{"value":"round"}}}}}}}}
   ],"resolve":{"scale":{"y":"independent"}}},
   {"hconcat":[
    {"width":251,"height":193,"layer":[
     {"layer":[
      {"data":{"name":"lab"},"transform":[{"filter":"datum.p=='H'"}],"mark":{"type":"rule","color":"#8c8c8c","strokeWidth":1,"strokeDash":[1.5,1.5],"clip":false},"encoding":{"x":{"datum":12.629,"type":"quantitative","scale":{"domain":[0,10]}},"y":{"datum":67.47,"type":"quantitative","scale":{"domain":[0,60]}},"y2":{"datum":-22.69}}},
      {"data":{"name":"lab"},"transform":[{"filter":"datum.p=='H'"}],"mark":{"type":"rule","color":"#8c8c8c","strokeWidth":1,"strokeDash":[1.5,1.5],"clip":false},"encoding":{"x":{"datum":-2.749,"type":"quantitative","scale":{"domain":[0,10]}},"x2":{"datum":12.629},"y":{"datum":-22.69,"type":"quantitative","scale":{"domain":[0,60]}}}},
      {"data":{"name":"lab"},"transform":[{"filter":"datum.p=='H'"}],"mark":{"type":"text","font":"Liberation Sans","fontSize":18,"fontWeight":"bold","align":"left","baseline":"alphabetic","color":"#000","clip":false},"encoding":{"x":{"datum":-2.709,"type":"quantitative"},"y":{"datum":62.5,"type":"quantitative"},"text":{"field":"p"}}},
      {"data":{"name":"lab"},"transform":[{"filter":"datum.p=='H'"}],"mark":{"type":"rect","fill":"#efefef"},"encoding":{"x":{"datum":0.08,"type":"quantitative","scale":{"domain":[0,10]}},"x2":{"datum":2.55},"y":{"datum":59.8,"type":"quantitative","scale":{"domain":[0,60]}},"y2":{"datum":43.2}}},
      {"data":{"name":"lab"},"transform":[{"filter":"datum.p=='H'"}],"mark":{"type":"text","font":"Liberation Serif","fontSize":20,"fontWeight":"bold","lineBreak":"\n","lineHeight":26,"color":"#000"},"encoding":{"x":{"datum":1.31,"type":"quantitative"},"y":{"datum":55.6,"type":"quantitative"},"text":{"field":"txt"}}},
      {"data":{"name":"d"},"transform":[{"filter":"datum.p=='H'"},{"filter":{"field":"s","oneOf":["HC_Abs.","Conv._Abs.","TR_Abs.","HR_Abs."]}},{"flatten":["t","v"]}],"mark":{"type":"line","strokeWidth":2.5,"interpolate":"monotone"},"encoding":{"x":{"field":"t","type":"quantitative","title":"Time [min]","scale":{"domain":[0,10]}},"y":{"field":"v","type":"quantitative","title":"Heat flow rate_Abs. [W]","scale":{"domain":[0,60]}},
       "color":{"field":"s","type":"nominal","scale":{"domain":["HR_Abs.","Conv._Abs.","HR_Rel.","Conv_Rel."],"range":["#000000","#7f7f7f","#000000","#808080"]},"legend":null},
       "strokeDash":{"field":"s","type":"nominal","scale":{"domain":["HR_Abs.","Conv._Abs.","HR_Rel.","Conv_Rel."],"range":[[1,0],[1,0],[0.1,6],[0.1,6]]},"legend":null}}}
     ]},
     {"data":{"name":"d"},"transform":[{"filter":"datum.p=='H'"},{"filter":{"field":"s","oneOf":["HC_Rel.","Conv_Rel.","TR_Rel.","HR_Rel."]}},{"flatten":["t","v"]}],"mark":{"type":"line","strokeWidth":3,"strokeCap":"round","interpolate":"monotone"},"encoding":{"x":{"field":"t","type":"quantitative","title":"Time [min]","scale":{"domain":[0,10]}},"y":{"field":"v","type":"quantitative","title":"Heat flow rate_Rel.","scale":{"domain":[0,1]},"axis":{"orient":"right","format":".1f"}},
       "color":{"field":"s","type":"nominal","scale":{"domain":["HR_Abs.","Conv._Abs.","HR_Rel.","Conv_Rel."],"range":["#000000","#7f7f7f","#000000","#808080"]},"legend":null},
       "strokeDash":{"field":"s","type":"nominal","scale":{"domain":["HR_Abs.","Conv._Abs.","HR_Rel.","Conv_Rel."],"range":[[1,0],[1,0],[0.1,6],[0.1,6]]},"legend":null}}}
    ],"resolve":{"scale":{"y":"independent"}}},
    {"width":255,"height":193,"layer":[
     {"layer":[
      {"data":{"name":"lab"},"transform":[{"filter":"datum.p=='I'"}],"mark":{"type":"rule","color":"#8c8c8c","strokeWidth":1,"strokeDash":[1.5,1.5],"clip":false},"encoding":{"x":{"datum":-2.824,"type":"quantitative","scale":{"domain":[0,10]}},"x2":{"datum":12.039},"y":{"datum":-22.69,"type":"quantitative","scale":{"domain":[0,60]}}}},
      {"data":{"name":"lab"},"transform":[{"filter":"datum.p=='I'"}],"mark":{"type":"text","font":"Liberation Sans","fontSize":18,"fontWeight":"bold","align":"left","baseline":"alphabetic","color":"#000","clip":false},"encoding":{"x":{"datum":-2.667,"type":"quantitative"},"y":{"datum":62.5,"type":"quantitative"},"text":{"field":"p"}}},
      {"data":{"name":"lab"},"transform":[{"filter":"datum.p=='I'"}],"mark":{"type":"rect","fill":"#efefef"},"encoding":{"x":{"datum":0.08,"type":"quantitative","scale":{"domain":[0,10]}},"x2":{"datum":2.51},"y":{"datum":59.8,"type":"quantitative","scale":{"domain":[0,60]}},"y2":{"datum":43.2}}},
      {"data":{"name":"lab"},"transform":[{"filter":"datum.p=='I'"}],"mark":{"type":"text","font":"Liberation Serif","fontSize":20,"fontWeight":"bold","lineBreak":"\n","lineHeight":26,"color":"#000"},"encoding":{"x":{"datum":1.3,"type":"quantitative"},"y":{"datum":55.6,"type":"quantitative"},"text":{"field":"txt"}}},
      {"data":{"name":"d"},"transform":[{"filter":"datum.p=='I'"},{"filter":{"field":"s","oneOf":["HC_Abs.","Conv._Abs.","TR_Abs.","HR_Abs."]}},{"flatten":["t","v"]}],"mark":{"type":"line","strokeWidth":2.5,"interpolate":"monotone"},"encoding":{"x":{"field":"t","type":"quantitative","title":"Time [min]","scale":{"domain":[0,10]}},"y":{"field":"v","type":"quantitative","title":"Heat flow rate_Abs. [W]","scale":{"domain":[0,60]}},
       "color":{"field":"s","type":"nominal","scale":{"domain":["HR_Abs.","Conv._Abs.","HR_Rel.","Conv_Rel."],"range":["#000000","#7f7f7f","#000000","#808080"]},"legend":null},
       "strokeDash":{"field":"s","type":"nominal","scale":{"domain":["HR_Abs.","Conv._Abs.","HR_Rel.","Conv_Rel."],"range":[[1,0],[1,0],[0.1,6],[0.1,6]]},"legend":null}}}
     ]},
     {"data":{"name":"d"},"transform":[{"filter":"datum.p=='I'"},{"filter":{"field":"s","oneOf":["HC_Rel.","Conv_Rel.","TR_Rel.","HR_Rel."]}},{"flatten":["t","v"]}],"mark":{"type":"line","strokeWidth":3,"strokeCap":"round","interpolate":"monotone"},"encoding":{"x":{"field":"t","type":"quantitative","title":"Time [min]","scale":{"domain":[0,10]}},"y":{"field":"v","type":"quantitative","title":"Heat flow rate_Rel.","scale":{"domain":[0,1]},"axis":{"orient":"right","format":".1f"}},
       "color":{"field":"s","type":"nominal","scale":{"domain":["HR_Abs.","Conv._Abs.","HR_Rel.","Conv_Rel."],"range":["#000000","#7f7f7f","#000000","#808080"]},"legend":null},
       "strokeDash":{"field":"s","type":"nominal","scale":{"domain":["HR_Abs.","Conv._Abs.","HR_Rel.","Conv_Rel."],"range":[[1,0],[1,0],[0.1,6],[0.1,6]]},"legend":null}}}
    ],"resolve":{"scale":{"y":"independent"}}}
   ],"spacing":-3,"resolve":{"scale":{"color":"independent","strokeDash":"independent"}}}
  ],"spacing":-2,"resolve":{"scale":{"color":"independent","strokeDash":"independent"}}},
  {"hconcat":[
   {"width":252,"height":192,"layer":[
    {"data":{"name":"lab"},"transform":[{"filter":"datum.p=='J'"}],"mark":{"type":"rule","color":"#8c8c8c","strokeWidth":1,"strokeDash":[1.5,1.5],"clip":false},"encoding":{"x":{"datum":12.857,"type":"quantitative","scale":{"domain":[0,10]}},"y":{"datum":69.69,"type":"quantitative","scale":{"domain":[0,60]}},"y2":{"datum":-15.94}}},
    {"data":{"name":"lab"},"transform":[{"filter":"datum.p=='J'"}],"mark":{"type":"text","font":"Liberation Sans","fontSize":18,"fontWeight":"bold","align":"left","baseline":"alphabetic","color":"#000","clip":false},"encoding":{"x":{"datum":-2.778,"type":"quantitative"},"y":{"datum":64.4,"type":"quantitative"},"text":{"field":"p"}}},
    {"data":{"name":"lab"},"transform":[{"filter":"datum.p=='J'"}],"mark":{"type":"rect","fill":"#efefef"},"encoding":{"x":{"datum":0.08,"type":"quantitative","scale":{"domain":[0,10]}},"x2":{"datum":2.54},"y":{"datum":59.8,"type":"quantitative","scale":{"domain":[0,60]}},"y2":{"datum":43.2}}},
    {"data":{"name":"lab"},"transform":[{"filter":"datum.p=='J'"}],"mark":{"type":"text","font":"Liberation Serif","fontSize":20,"fontWeight":"bold","lineBreak":"\n","lineHeight":26,"color":"#000"},"encoding":{"x":{"datum":1.31,"type":"quantitative"},"y":{"datum":55.6,"type":"quantitative"},"text":{"field":"txt"}}},
    {"data":{"name":"d"},"transform":[{"filter":"datum.p=='J'"},{"flatten":["t","v"]}],"mark":{"type":"line","strokeWidth":2.5,"interpolate":"monotone"},"encoding":{"x":{"field":"t","type":"quantitative","title":"Time [min]","scale":{"domain":[0,10]}},"y":{"field":"v","type":"quantitative","title":"Heat flow rate_Abs. [W]","scale":{"domain":[0,60]}},
     "color":{"field":"s","type":"nominal","scale":{"domain":["Conv._Abs."],"range":["#7f7f7f"]},"legend":{"title":null}},
     "strokeDash":{"field":"s","type":"nominal","scale":{"domain":["Conv._Abs."],"range":[[1,0]]},"legend":{"title":null}}}}
   ]},
   {"hconcat":[
    {"width":255,"height":192,"layer":[
     {"data":{"name":"lab"},"transform":[{"filter":"datum.p=='K'"}],"mark":{"type":"rule","color":"#8c8c8c","strokeWidth":1,"strokeDash":[1.5,1.5],"clip":false},"encoding":{"x":{"datum":12.078,"type":"quantitative","scale":{"domain":[0,10]}},"y":{"datum":69.69,"type":"quantitative","scale":{"domain":[0,60]}},"y2":{"datum":-15.94}}},
     {"data":{"name":"lab"},"transform":[{"filter":"datum.p=='K'"}],"mark":{"type":"text","font":"Liberation Sans","fontSize":18,"fontWeight":"bold","align":"left","baseline":"alphabetic","color":"#000","clip":false},"encoding":{"x":{"datum":-2.941,"type":"quantitative"},"y":{"datum":64.4,"type":"quantitative"},"text":{"field":"p"}}},
     {"data":{"name":"lab"},"transform":[{"filter":"datum.p=='K'"}],"mark":{"type":"rect","fill":"#efefef"},"encoding":{"x":{"datum":0.08,"type":"quantitative","scale":{"domain":[0,10]}},"x2":{"datum":2.51},"y":{"datum":59.8,"type":"quantitative","scale":{"domain":[0,60]}},"y2":{"datum":43.2}}},
     {"data":{"name":"lab"},"transform":[{"filter":"datum.p=='K'"}],"mark":{"type":"text","font":"Liberation Serif","fontSize":20,"fontWeight":"bold","lineBreak":"\n","lineHeight":26,"color":"#000"},"encoding":{"x":{"datum":1.3,"type":"quantitative"},"y":{"datum":55.6,"type":"quantitative"},"text":{"field":"txt"}}},
     {"data":{"name":"d"},"transform":[{"filter":"datum.p=='K'"},{"flatten":["t","v"]}],"mark":{"type":"line","strokeWidth":2.5,"interpolate":"monotone"},"encoding":{"x":{"field":"t","type":"quantitative","title":"Time [min]","scale":{"domain":[0,10]}},"y":{"field":"v","type":"quantitative","title":"Heat flow rate_Abs. [W]","scale":{"domain":[0,60]}},
      "color":{"field":"s","type":"nominal","scale":{"domain":["Conv._Abs."],"range":["#7f7f7f"]},"legend":null},
      "strokeDash":{"field":"s","type":"nominal","scale":{"domain":["Conv._Abs."],"range":[[1,0]]},"legend":null}}}
    ]},
    {"width":265,"height":192,"layer":[
     {"data":{"name":"lab"},"transform":[{"filter":"datum.p=='L'"}],"mark":{"type":"text","font":"Liberation Sans","fontSize":18,"fontWeight":"bold","align":"left","baseline":"alphabetic","color":"#000","clip":false},"encoding":{"x":{"datum":-2.453,"type":"quantitative"},"y":{"datum":64.4,"type":"quantitative"},"text":{"field":"p"}}},
     {"data":{"name":"lab"},"transform":[{"filter":"datum.p=='L'"}],"mark":{"type":"rect","fill":"#efefef"},"encoding":{"x":{"datum":0.08,"type":"quantitative","scale":{"domain":[0,10]}},"x2":{"datum":2.42},"y":{"datum":59.8,"type":"quantitative","scale":{"domain":[0,60]}},"y2":{"datum":43.2}}},
     {"data":{"name":"lab"},"transform":[{"filter":"datum.p=='L'"}],"mark":{"type":"text","font":"Liberation Serif","fontSize":20,"fontWeight":"bold","lineBreak":"\n","lineHeight":26,"color":"#000"},"encoding":{"x":{"datum":1.25,"type":"quantitative"},"y":{"datum":55.6,"type":"quantitative"},"text":{"field":"txt"}}},
     {"data":{"name":"d"},"transform":[{"filter":"datum.p=='L'"},{"flatten":["t","v"]}],"mark":{"type":"line","strokeWidth":2.5,"interpolate":"monotone"},"encoding":{"x":{"field":"t","type":"quantitative","title":"Time [min]","scale":{"domain":[0,10]}},"y":{"field":"v","type":"quantitative","title":"Heat flow rate_Abs. [W]","scale":{"domain":[0,60]}},
      "color":{"field":"s","type":"nominal","scale":{"domain":["Conv._Abs."],"range":["#7f7f7f"]},"legend":null},
      "strokeDash":{"field":"s","type":"nominal","scale":{"domain":["Conv._Abs."],"range":[[1,0]]},"legend":null}}}
    ]}
   ],"spacing":-0.5,"resolve":{"scale":{"color":"independent","strokeDash":"independent"}}}
  ],"spacing":1.5,"resolve":{"scale":{"color":"independent","strokeDash":"independent"}}}
 ],"spacing":0,"resolve":{"scale":{"color":"independent","strokeDash":"independent"}}}
],"spacing":0,"resolve":{"scale":{"color":"independent","strokeDash":"independent"}}}
],
"config":{
 "view":{"stroke":"#4d4d4d","strokeWidth":1},
 "axis":{"labelFont":"Liberation Serif","labelFontSize":16,"labelColor":"#262626","titleFont":"Liberation Serif","titleFontSize":18,"titleFontWeight":"bold","titleColor":"#000000","ticks":false,"domain":false,"grid":true,"gridColor":"#858585","gridWidth":1,"gridOpacity":1,"labelFlush":false,"labelOverlap":false},
 "axisX":{"tickCount":5,"labelPadding":10,"titlePadding":0},
 "axisLeft":{"tickCount":6,"labelPadding":12,"titlePadding":5},
 "axisRight":{"tickCount":5,"labelPadding":8,"titlePadding":7,"grid":false,"titleAngle":270,"titleBaseline":"top"},
 "legend":{"orient":"top-right","offset":2,"padding":3,"columns":2,"columnPadding":8,"rowPadding":1,"fillColor":"white","labelFont":"Liberation Serif","labelFontSize":14,"labelColor":"#222222","labelOffset":1,"labelLimit":0,"symbolType":"stroke","symbolSize":170,"symbolStrokeWidth":2.5},
 "title":{"anchor":"start","frame":"bounds","offset":19,"font":"Liberation Sans","fontSize":16.4,"fontWeight":"normal","color":"#222222"}
}
}
